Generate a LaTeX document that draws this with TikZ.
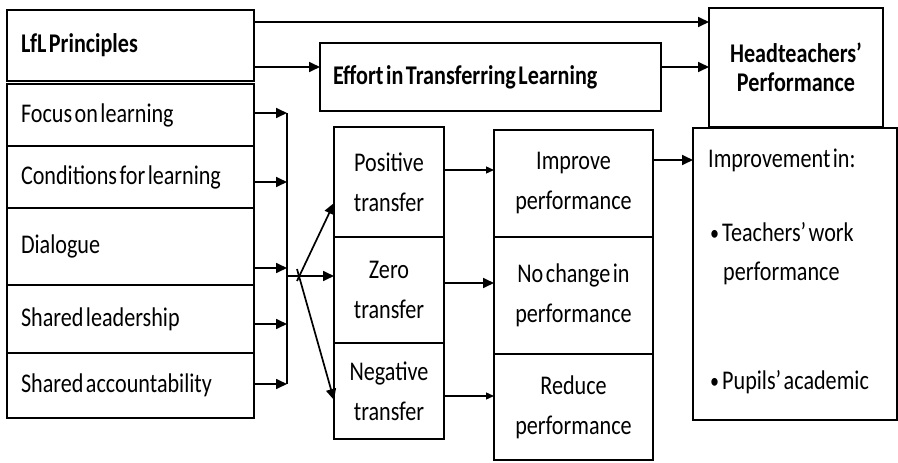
\documentclass[tikz,border=0pt]{standalone}
\usepackage{fontspec}
\setmainfont[FakeStretch=0.82,WordSpace=0.5]{Carlito}
\usetikzlibrary{arrows.meta}
\tikzset{
  box/.style={draw, line width=1.5pt, inner sep=0pt, outer sep=0pt, anchor=north west},
  ltxt/.style={inner xsep=14pt, font=\fontsize{27}{30}\selectfont},
  ctxt/.style={align=center, font=\fontsize{27}{40}\selectfont},
  free/.style={inner sep=0pt, anchor=west, font=\fontsize{27}{30}\selectfont},
  arr/.style={line width=1.7pt, -{Triangle[length=11pt,width=10pt]}},
  thinarr/.style={line width=1.3pt, -{Triangle[length=8pt,width=7pt]}},
  bar/.style={line width=1.8pt}
}
\newcommand\bul{\raisebox{1pt}{\fontsize{22}{22}\selectfont\textbullet}\hspace{3pt}}
\newcommand\lft[2]{\makebox[#1][l]{#2}}
\begin{document}
\begin{tikzpicture}[x=1pt,y=-1pt]
\useasboundingbox (0,0) rectangle (898,463);
% left column
\node[box, ltxt, font=\bfseries\fontsize{27}{30}\selectfont, minimum height=71pt] (lfl) at (7,10) {\lft{219pt}{LfL Principles}};
\node[box, ltxt, minimum height=62pt] (focus) at (7,84) {\lft{219pt}{Focus on learning}};
\node[box, ltxt, minimum height=62pt] (cond) at (7,146) {\lft{219pt}{Conditions for learning}};
\node[box, ltxt, minimum height=77pt] (dia) at (7,208) {\lft{219pt}{Dialogue}};
\node[box, ltxt, minimum height=68pt] (lead) at (7,285) {\lft{219pt}{Shared leadership}};
\node[box, ltxt, minimum height=65pt] (acc) at (7,353) {\lft{219pt}{Shared accountability}};
% effort and headteachers
\node[box, inner xsep=13pt, font=\bfseries\fontsize{27}{30}\selectfont, minimum height=68pt] (eff) at (320,43) {\lft{315pt}{Effort in Transferring Learning}};
\node[box, align=center, font=\bfseries\fontsize{27}{29}\selectfont, minimum width=174pt, minimum height=119pt] (head) at (709,8) {Headteachers’\\Performance};
% transfer boxes
\node[box, ctxt, minimum width=110pt, minimum height=110pt] (pos) at (334,127) {Positive\\transfer};
\node[box, ctxt, minimum width=110pt, minimum height=106pt] (zero) at (334,237) {Zero\\transfer};
\node[box, ctxt, minimum width=110pt, minimum height=96pt] (neg) at (334,343) {Negative\\transfer};
% performance boxes
\node[box, ctxt, minimum width=159pt, minimum height=107pt] (impr) at (494,130) {Improve\\performance};
\node[box, ctxt, minimum width=159pt, minimum height=117pt] (noch) at (494,237) {No change in\\performance};
\node[box, ctxt, minimum width=159pt, minimum height=106pt] (red) at (494,354) {Reduce\\performance};
% improvement box
\node[box, minimum width=204pt, minimum height=292pt] (impv) at (693,128) {};
\node[free] (t1) at (708,160) {Improvement in:};
\node[free] (t2) at (710,232) {\bul Teachers’ work};
\node[free] (t3) at (723,273) {performance};
\node[free] (t4) at (710,382) {\bul Pupils’ academic};
% coordinates
\coordinate (yA) at (0,22);
\coordinate (yB) at (0,67);
\coordinate (b1) at (287,113);
\coordinate (b2) at (287,182);
\coordinate (b3) at (287,268);
\coordinate (b4) at (287,324);
\coordinate (b5) at (287,384);
\coordinate (f) at (287,276);
\coordinate (fu) at (297,281);
\coordinate (fd) at (297,269);
\coordinate (yP) at (0,203);
\coordinate (yN) at (0,400);
\coordinate (y1) at (0,170);
\coordinate (y2) at (0,283);
\coordinate (y3) at (0,396);
\coordinate (y4) at (0,160);
% connectors
\draw[arr] (lfl.east |- yA) -- (head.west |- yA);
\draw[arr] (lfl.east |- yB) -- (eff.west |- yB);
\draw[arr] (eff.east |- yB) -- (head.west |- yB);
\draw[arr] (focus.east |- b1) -- (b1);
\draw[arr] (cond.east |- b2) -- (b2);
\draw[arr] (dia.east |- b3) -- (b3);
\draw[arr] (lead.east |- b4) -- (b4);
\draw[arr] (acc.east |- b5) -- (b5);
\draw[bar] (b1) -- (b5);
\draw[arr] (f) -- (zero.west |- f);
\draw[arr] (fu) -- (pos.west |- yP);
\draw[arr] (fd) -- (neg.west |- yN);
\draw[thinarr] (pos.east |- y1) -- (impr.west |- y1);
\draw[arr] (zero.east |- y2) -- (noch.west |- y2);
\draw[thinarr] (neg.east |- y3) -- (red.west |- y3);
\draw[arr] (impr.east |- y4) -- (impv.west |- y4);
\end{tikzpicture}
\end{document}
